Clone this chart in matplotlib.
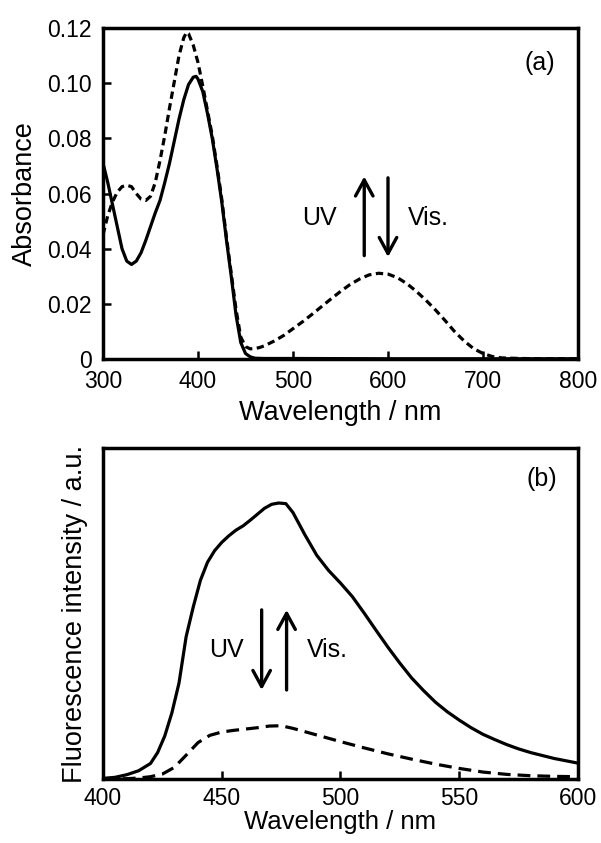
import matplotlib
matplotlib.use("Agg")
import matplotlib.pyplot as plt
from matplotlib.ticker import FuncFormatter

plt.rcParams['font.family'] = ['Liberation Sans', 'DejaVu Sans']

# (a) absorption spectra
wl_abs_solid = [300, 305, 310, 315, 320, 325, 330, 335, 340, 345, 350, 355, 360, 365, 370,
                375, 380, 385, 390, 395, 398, 400, 405, 410, 415, 420, 425, 430, 435, 440,
                445, 450, 455, 460, 470, 500, 600, 700, 800]
abs_solid = [0.071, 0.064, 0.056, 0.048, 0.040, 0.0355, 0.0343, 0.0355, 0.0385, 0.043, 0.048,
             0.053, 0.0575, 0.064, 0.071, 0.079, 0.087, 0.094, 0.0995, 0.1022, 0.1025, 0.1015,
             0.097, 0.089, 0.080, 0.069, 0.057, 0.043, 0.030, 0.016, 0.006, 0.002, 0.0008,
             0.0003, 0.0002, 0.0002, 0.0001, 0.0001, 0.0001]

wl_abs_dash = [300, 305, 310, 315, 320, 325, 330, 335, 340, 345, 350, 355, 360, 365, 370, 375,
               380, 385, 388, 390, 395, 400, 405, 410, 415, 420, 425, 430, 435, 440, 445, 450,
               455, 460, 465, 470, 480, 490, 500, 510, 520, 530, 540, 550, 560, 570, 580, 590,
               600, 610, 620, 630, 640, 650, 660, 670, 680, 690, 700, 710, 720, 740, 760, 800]
abs_dash = [0.045, 0.052, 0.057, 0.0605, 0.0625, 0.063, 0.0625, 0.060, 0.058, 0.0575, 0.059,
            0.064, 0.072, 0.081, 0.091, 0.1005, 0.110, 0.1165, 0.1185, 0.118, 0.1138, 0.1075,
            0.099, 0.090, 0.081, 0.070, 0.058, 0.044, 0.031, 0.018, 0.008, 0.0045, 0.0037,
            0.0038, 0.0042, 0.0048, 0.0065, 0.0085, 0.011, 0.0135, 0.0162, 0.0190, 0.0218,
            0.0245, 0.027, 0.029, 0.0305, 0.0311, 0.0308, 0.0295, 0.0273, 0.0245, 0.0213,
            0.0178, 0.0140, 0.0100, 0.0066, 0.0038, 0.0020, 0.0009, 0.0004, 0.0002, 0.0001,
            0.0001]

# (b) fluorescence spectra (normalised)
wl_fl_solid = [400, 405, 410, 415, 420, 423, 426, 429, 432, 435, 438, 441, 444, 447, 450, 453,
               456, 459, 462, 465, 468, 471, 474, 477, 480, 485, 490, 495, 500, 505, 510, 515,
               520, 525, 530, 535, 540, 545, 550, 555, 560, 565, 570, 575, 580, 585, 590, 595,
               600]
fl_solid = [0.002, 0.005, 0.013, 0.025, 0.047, 0.08, 0.13, 0.20, 0.29, 0.43, 0.52, 0.60, 0.655,
            0.69, 0.715, 0.735, 0.752, 0.765, 0.782, 0.800, 0.818, 0.830, 0.834, 0.832, 0.805,
            0.738, 0.676, 0.630, 0.592, 0.551, 0.501, 0.449, 0.398, 0.35, 0.305, 0.267, 0.232,
            0.203, 0.178, 0.155, 0.135, 0.119, 0.104, 0.091, 0.080, 0.071, 0.062, 0.055, 0.048]

wl_fl_dash = [400, 410, 415, 420, 425, 430, 435, 440, 445, 450, 455, 460, 465, 470, 475, 480,
              485, 490, 495, 500, 510, 520, 530, 540, 550, 560, 570, 580, 590, 600]
fl_dash = [0.0, 0.001, 0.003, 0.007, 0.015, 0.035, 0.072, 0.110, 0.132, 0.142, 0.147, 0.151,
           0.155, 0.160, 0.161, 0.153, 0.143, 0.133, 0.123, 0.113, 0.094, 0.076, 0.060, 0.045,
           0.032, 0.021, 0.014, 0.010, 0.008, 0.007]

fig = plt.figure(figsize=(6.01, 8.43), dpi=100)
ax1 = fig.add_axes([0.1714, 0.5741, 0.7903, 0.3926])
ax2 = fig.add_axes([0.1714, 0.0759, 0.7903, 0.3926])

lw = 2.3
arrow_style = dict(arrowstyle='->,head_length=0.55,head_width=0.3', lw=2.4, color='k',
                   shrinkA=0, shrinkB=0, mutation_scale=21)

# panel (a)
ax1.plot(wl_abs_solid, abs_solid, color='k', lw=lw)
ax1.plot(wl_abs_dash, abs_dash, color='k', lw=lw, dashes=(2.3, 1.4))
ax1.set_xlim(300, 800)
ax1.set_ylim(0, 0.12)
ax1.set_xticks([300, 400, 500, 600, 700, 800])
ax1.set_yticks([0, 0.02, 0.04, 0.06, 0.08, 0.10, 0.12])
ax1.yaxis.set_major_formatter(FuncFormatter(lambda v, p: '0' if v == 0 else '%.2f' % v))
ax1.set_xlabel('Wavelength / nm', fontsize=19.5, labelpad=5)
ax1.set_ylabel('Absorbance', fontsize=19.5, labelpad=7)
ax1.text(0.92, 0.895, '(a)', transform=ax1.transAxes, fontsize=18, ha='center', va='center')
ax1.annotate('', xy=(575, 0.0662), xytext=(575, 0.0375), arrowprops=arrow_style)
ax1.annotate('', xy=(600, 0.0370), xytext=(600, 0.0657), arrowprops=arrow_style)
ax1.text(528, 0.051, 'UV', fontsize=18, ha='center', va='center')
ax1.text(621, 0.051, 'Vis.', fontsize=18, ha='left', va='center')

# panel (b)
ax2.plot(wl_fl_solid, fl_solid, color='k', lw=lw)
ax2.plot(wl_fl_dash, fl_dash, color='k', lw=lw, dashes=(4.0, 2.2))
ax2.set_xlim(400, 600)
ax2.set_ylim(0, 1)
ax2.set_xticks([400, 450, 500, 550, 600])
ax2.set_yticks([])
ax2.set_xlabel('Wavelength / nm', fontsize=18.5, labelpad=0)
ax2.set_ylabel('Fluorescence intensity / a.u.', fontsize=19.5, labelpad=11)
ax2.text(0.924, 0.908, '(b)', transform=ax2.transAxes, fontsize=18, ha='center', va='center')
ax2.annotate('', xy=(466.8, 0.269), xytext=(466.8, 0.511), arrowprops=arrow_style)
ax2.annotate('', xy=(477.3, 0.511), xytext=(477.3, 0.269), arrowprops=arrow_style)
ax2.text(452, 0.39, 'UV', fontsize=18, ha='center', va='center')
ax2.text(485.8, 0.39, 'Vis.', fontsize=18, ha='left', va='center')

for ax in (ax1, ax2):
    for s in ax.spines.values():
        s.set_linewidth(2.5)
    ax.tick_params(direction='in', length=6, width=1.8, labelsize=16.5, pad=8,
                   top=False, right=False)
ax2.tick_params(axis='x', pad=6)

fig.savefig('out.png', dpi=100)
